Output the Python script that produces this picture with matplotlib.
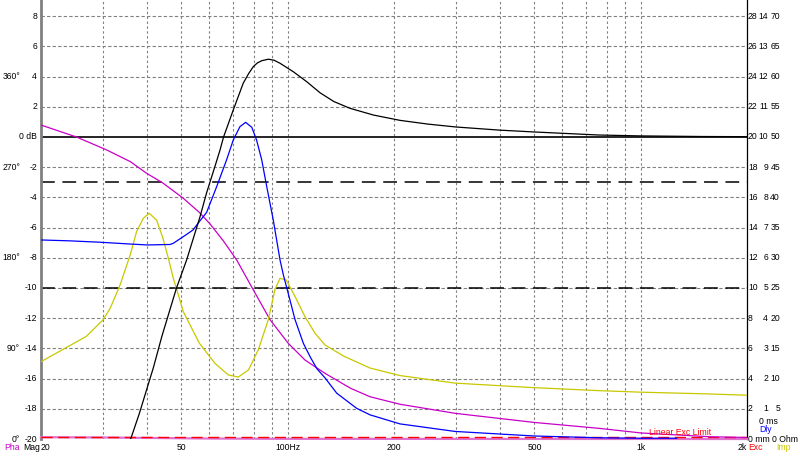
import numpy as np
import matplotlib.pyplot as plt

plt.rcParams['font.family'] = ['Liberation Sans', 'DejaVu Sans']

# --- curves (frequency in Hz, value on the dB scale) ---
mag_f = [35.9, 38.0, 40.6, 41.6, 44.0, 48.4, 51.7, 56.4, 58.9, 62.2, 64.3, 65.8,
         70.1, 74.8, 77.5, 79.9, 82.0, 84.4, 88.1, 91.5, 95.1, 103.7, 113.2, 123.4,
         135, 150, 175, 208, 250, 300, 400, 500, 760, 1000, 1500, 2000]
mag_db = [-20.0, -18.3, -16.1, -15.3, -13.2, -10.0, -8.15, -5.3, -3.7, -1.95, -0.86, 0.0,
          1.79, 3.56, 4.2, 4.66, 4.9, 5.05, 5.15, 5.08, 4.88, 4.32, 3.66, 2.93,
          2.35, 1.9, 1.45, 1.1, 0.85, 0.66, 0.45, 0.33, 0.13, 0.07, 0.03, 0.02]

dly_f = [20, 24.2, 29.4, 35.8, 40.0, 46.4, 47.4, 50.6, 53.9, 56.2, 58.9, 62.9,
         67.1, 70.1, 73.2, 76.0, 79.1, 81.6, 84.4, 87.2, 91.0, 95.1, 97.2, 100.3,
         104.9, 110.7, 116.0, 121.0, 127.5, 137.7, 156.8, 171.0, 208, 298, 498, 766, 1000, 1265]
dly_db = [-6.82, -6.88, -6.97, -7.09, -7.15, -7.12, -7.04, -6.6, -6.16, -5.6, -5.0, -3.29,
          -1.52, -0.2, 0.68, 0.97, 0.64, -0.2, -1.52, -3.29, -5.5, -8.15, -9.14, -10.35,
          -12.1, -13.66, -14.6, -15.35, -15.95, -16.97, -17.97, -18.4, -19.0, -19.5, -19.8,
          -19.92, -19.95, -19.95]

pha_f = [20, 25.2, 30.7, 35.8, 39.8, 44.3, 50.6, 56.2, 60.2, 65.8, 71.7, 79.9,
         89.1, 100.3, 111.9, 127.5, 150.6, 171.0, 208, 298, 498, 766, 1002, 1571, 2000]
pha_db = [0.79, 0.0, -0.86, -1.63, -2.4, -3.05, -4.06, -5.0, -5.75, -6.9, -8.15, -10.13,
          -12.1, -13.66, -14.77, -15.65, -16.64, -17.2, -17.7, -18.3, -18.9, -19.3, -19.6,
          -19.85, -19.9]

imp_f = [20, 26.9, 30.0, 31.4, 33.5, 35.8, 37.3, 39.0, 40.5, 42.5, 44.3, 45.9,
         47.4, 49.0, 50.6, 56.2, 62.2, 67.9, 72.4, 77.4, 82.5, 88.1, 92.0, 95.1,
         99.0, 104.9, 111.9, 119.5, 127.5, 143.7, 171.0, 208, 298, 498, 766, 1000, 1472, 2000]
imp_db = [-14.88, -13.2, -12.1, -11.35, -9.8, -7.8, -6.27, -5.38, -5.05, -5.5, -6.7, -8.03,
          -9.36, -10.46, -11.57, -13.66, -14.99, -15.76, -15.9, -15.43, -14.1, -12.1, -10.1, -9.36,
          -9.47, -10.57, -11.9, -13.0, -13.77, -14.5, -15.3, -15.8, -16.3, -16.6, -16.8, -16.9,
          -17.0, -17.1]

exc_f = [20, 30, 45, 60, 100, 2000]
exc_mm = [0.12, 0.1, 0.06, 0.03, 0.01, 0.0]
exc_limit_mm = 0.1

# --- axis labels ---
db_ticks = list(range(-20, 9, 2))
db_labels = ['0 dB' if v == 0 else str(v) for v in db_ticks]
deg_ticks = [4, -2, -8, -14, -20]
deg_labels = ['360°', '270°', '180°', '90°', '0°']
grid_freqs = [30, 40, 50, 60, 70, 80, 90, 100, 200, 300, 400, 500, 600, 700, 800, 900, 1000]
freq_ticks = [20, 50, 100, 200, 500, 1000, 2000]
freq_labels = ['20', '50', '100Hz', '200', '500', '1k', '2k']
right_db = list(range(-18, 9, 2))
right_exc = [2, 4, 6, 8, 10, 12, 14, 16, 18, 20, 22, 24, 26, 28]
right_dly = [1, 2, 3, 4, 5, 6, 7, 8, 9, 10, 11, 12, 13, 14]
right_imp = [5, 10, 15, 20, 25, 30, 35, 40, 45, 50, 55, 60, 65, 70]

BLUE = '#0000ff'
MAG = '#c800c8'
YEL = '#c8c800'
RED = '#ff0000'
GRID = '#808080'
FS = 6.2

fig = plt.figure(figsize=(8, 4.61), dpi=100)
ax = fig.add_axes([41 / 800, 22 / 461, 706 / 800, 439 / 461])
ax.set_xscale('log')
ax.set_xlim(20, 2000)
ax.set_ylim(-20, 9.07)

# grid
for f in grid_freqs:
    ax.axvline(f, color=GRID, lw=0.8, ls=(0, (2.2, 2.2)), zorder=1)
for v in db_ticks:
    if v != 0:
        ax.axhline(v, color=GRID, lw=0.8, ls=(0, (3, 2)), zorder=1)
ax.axhline(0, color='black', lw=1.2, zorder=2)
ax.axhline(-3, color='black', lw=1.1, ls=(0, (9, 5)), zorder=2)
ax.axhline(-10, color='black', lw=1.1, ls=(0, (9, 5)), zorder=2)

# curves
ax.plot(exc_f, np.array(exc_mm) - 20, color='#e070d0', lw=1.6, zorder=3, clip_on=False)
ax.axhline(exc_limit_mm - 20, color=RED, lw=1.0, ls=(0, (8, 4)), zorder=3)
ax.plot(pha_f, pha_db, color=MAG, lw=0.9, zorder=4)
ax.plot(imp_f, imp_db, color=YEL, lw=0.9, zorder=4)
ax.plot(dly_f, dly_db, color=BLUE, lw=0.9, zorder=5)
ax.plot(mag_f, mag_db, color='black', lw=0.9, zorder=6)
ax.text(1290, -19.6, 'Linear Exc Limit', color=RED, fontsize=FS, ha='center', va='center', zorder=7)

# frame
for s in ['top', 'bottom']:
    ax.spines[s].set_visible(False)
ax.spines['left'].set_color(GRID)
ax.spines['left'].set_linewidth(2.0)
ax.spines['right'].set_color('black')
ax.spines['right'].set_linewidth(0.9)
ax.set_xticks([])
ax.set_yticks([])
ax.minorticks_off()

def lab(text, xy, xycoords, dx, dy, ha='left', color='black'):
    ax.annotate(text, xy=xy, xycoords=xycoords, xytext=(dx, dy), textcoords='offset pixels',
                ha=ha, va='center', fontsize=FS, color=color, annotation_clip=False)

# left labels
for v, t in zip(db_ticks, db_labels):
    lab(t, (0, v), ('axes fraction', 'data'), -4, 0, ha='right')
for v, t in zip(deg_ticks, deg_labels):
    lab(t, (0, v), ('axes fraction', 'data'), -21, 0, ha='right')
lab('Pha', (0, 0), 'axes fraction', -37, -8, color=MAG)
lab('Mag', (0, 0), 'axes fraction', -18, -8)

# frequency labels
for f, t in zip(freq_ticks, freq_labels):
    ha = 'left' if f == freq_ticks[0] else ('right' if f == freq_ticks[-1] else 'center')
    lab(t, (f, 0), ('data', 'axes fraction'), 0, -8, ha=ha)

# right labels
for v, a, b, c in zip(right_db, right_exc, right_dly, right_imp):
    lab(str(a), (1, v), ('axes fraction', 'data'), 1, 0)
    lab(str(b), (1, v), ('axes fraction', 'data'), 21, 0, ha='right')
    lab(str(c), (1, v), ('axes fraction', 'data'), 33, 0, ha='right')
lab('0 ms', (1, -18.85), ('axes fraction', 'data'), 12, 0)
lab('Dly', (1, -19.4), ('axes fraction', 'data'), 12, 0, color=BLUE)
lab('0 mm', (1, -20), ('axes fraction', 'data'), 1, 0)
lab('0 Ohm', (1, -20), ('axes fraction', 'data'), 25, 0)
lab('Exc', (1, 0), 'axes fraction', 1, -8, color=RED)
lab('Imp', (1, 0), 'axes fraction', 29, -8, color=YEL)

fig.savefig('out.png', dpi=100, facecolor='white')
